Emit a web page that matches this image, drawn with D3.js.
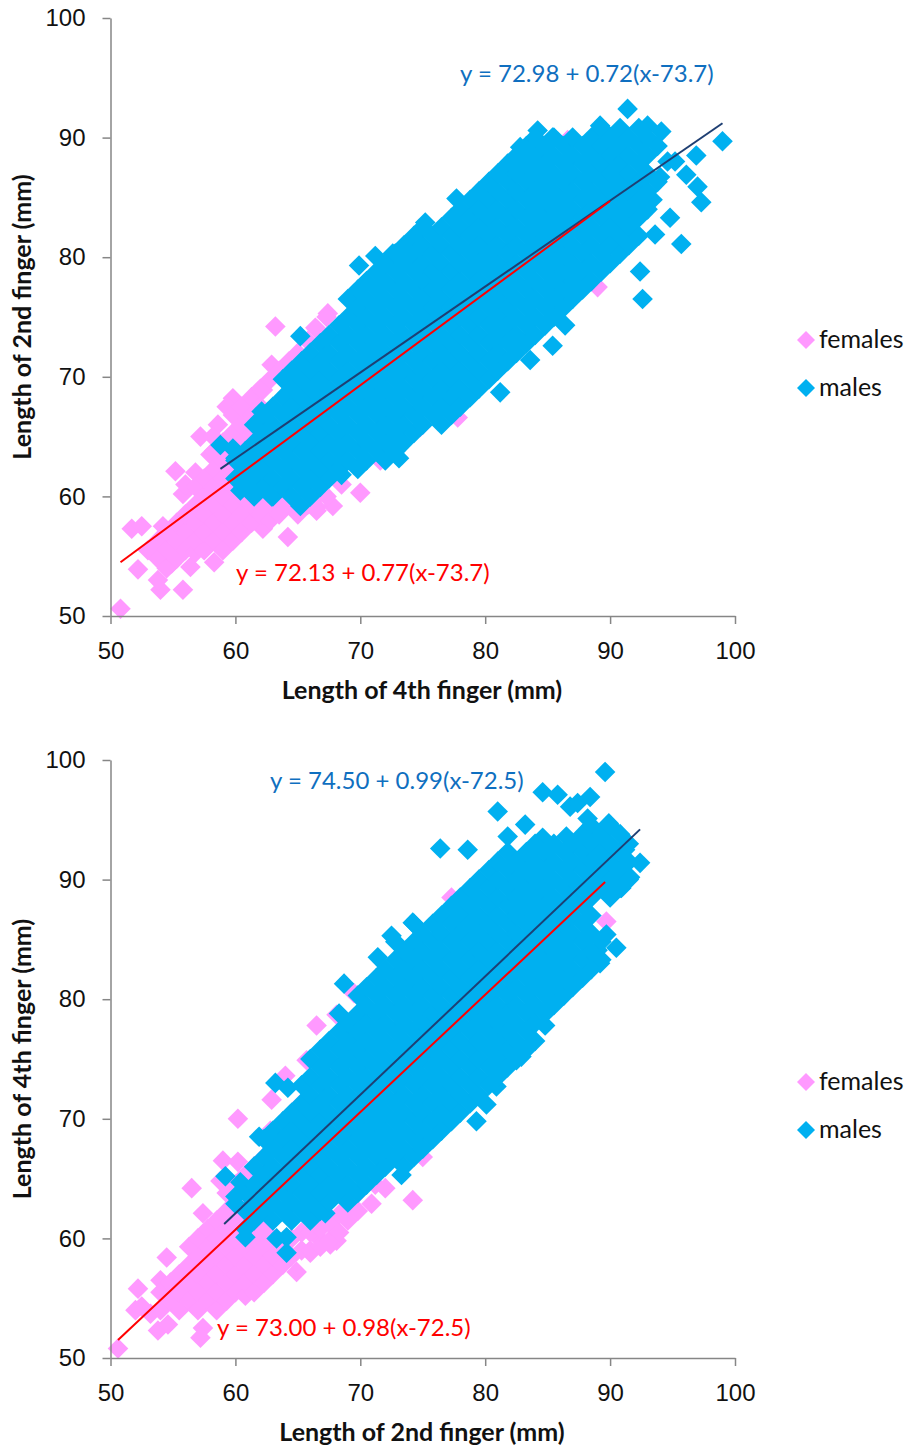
<!DOCTYPE html>
<html lang="en">
<head>
<meta charset="utf-8">
<title>Finger length scatter</title>
<script src="https://cdnjs.cloudflare.com/ajax/libs/d3/7.8.5/d3.min.js"></script>
<style>
  body { margin: 0; background: #fff; }
  svg { display: block; font-family: Lato, "Open Sans", sans-serif; }
  .tick text { font-size: 24px; fill: #111; }
  .title { font-size: 25px; font-weight: bold; fill: #111; text-anchor: middle; }
  .eq { font-size: 24px; }
  .leg { font-size: 25px; fill: #111; }
</style>
</head>
<body>
<div id="graph"></div>
<script>
const axisTicks = [50, 60, 70, 80, 90, 100];
const seriesNames = ["females", "males"];

// every row is [x, y, y, y ...]

// top chart: 4th finger (x) against 2nd finger (y)
const femalesTop = [
  [50.8,50.6],[51.7,57.3],[52.5,57.5],[52.2,53.9],[54,52.2],[53.8,53],[55.8,52.2],[56.4,54.1],[54.9,54.4],[58.3,54.5],
  [57.2,65],[58.6,66],[59.8,68.2],[59.3,67.5],[55.2,62.1],[62.2,57.3],[64.2,56.6],[66.5,59.1],[70,60.3],[71.6,63],
  [62.2,68.9],[62.9,66.5],[63.2,74.2],[62.9,71],[66.4,74.1],[67.4,75.3],[72,79],[73.2,79.3],[86.6,89.8],[89,77.5],
  [78.6,68.2],[77.8,66.6],[74.8,65.8],[68.5,61],[67.8,59.2],[61,58],[64.9,59.5],[60.5,67.2],[64.2,70.8],
  [54.2,57.5],[55.8,60.2],[56.8,62],[58,63.5],[58.2,65],[56,61],
  [53,55.5],[53.8,54.8,56.3],[54.5,54,55.5,57],[55.3,54.8,56.3,57.8],[56,55.5,57,58.5],
  [56.8,55.3,56.3,57.8,59.3,60.8],[57.5,55.5,57,58.5,60,61.5],[58.3,56.3,57.8,59.3,60.8,62.3,63.8],
  [59,55.5,57,58.5,60,61.5,63,64.5],[59.8,56.3,57.8,59.3,60.8,62.3,63.8,65.3,66.8],
  [60.5,57,58.5,60,61.5,63,64.5,66,67.5],[61.3,57.8,59.3,60.8,62.3,63.8,65.3,66.8,68.3],
  [62,58.5,60,67.5,69],[62.8,58,59.3,69.8],[63.5,58.5,60,70.5],[64.3,59.3,71.3],[65,58.5,60,72],[65.8,59.3,73],
  [66.5,58.8,60,74],[67.3,60,75]
];
const malesTop = [
  [91.4,92.4],[84.2,90.6],[89.2,91],[99,89.7],[81.8,87.8],[85.4,90],[82.8,89.2],[77.7,84.9],[96.9,88.5],[96.1,86.9],
  [97,85.9],[97.3,84.6],[94.8,83.3],[93.6,81.9],[95.7,81.1],[92.6,76.5],[92.4,78.8],[93.4,84.8],[95.2,88],[93,91],
  [94.1,90.5],[75.2,82.9],[71.2,80.1],[72.6,80.3],[69.9,79.3],[65.2,73.4],[62.1,67.1],[61.7,66],[58.8,64.3],[59.8,64],
  [60,63.2],[73.1,63.2],[65.2,59.2],[68.5,61.8],[83.6,71.4],[85.4,72.6],[86.4,74.3],[81.2,68.7],[60.4,60.5],[62.9,60],
  [94,86.7],[94.6,88],
  [60,61.5,63],[60.8,60.8,62.3,63.8],[61.5,60,61.5,63,64.5,66],[62.3,60.8,62.3,63.8,65.3,66.8],
  [63,60,61.5,63,64.5,66,67.5],[63.8,60.8,62.3,63.8,65.3,66.8,68.3,69.8],[64.5,60,61.5,63,64.5,66,67.5,69,70.5],
  [65.3,60.8,62.3,63.8,65.3,66.8,68.3,69.8,71.3],[66,60,61.5,63,64.5,66,67.5,69,70.5,72],
  [66.8,60.8,62.3,63.8,65.3,66.8,68.3,69.8,71.3,72.8],[67.5,61.5,63,64.5,66,67.5,69,70.5,72,73.5],
  [68.3,62.3,63.8,65.3,66.8,68.3,69.8,71.3,72.8,74.3],[69,63,64.5,66,67.5,69,70.5,72,73.5,75,76.5],
  [69.8,62.3,63.8,65.3,66.8,68.3,69.8,71.3,72.8,74.3,75.8,77.3],[70.5,63,64.5,66,67.5,69,70.5,72,73.5,75,76.5,78],
  [71.3,63.8,65.3,66.8,68.3,69.8,71.3,72.8,74.3,75.8,77.3,78.8],[72,63,64.5,66,67.5,69,70.5,72,73.5,75,76.5,78,79.5],
  [72.8,63.8,65.3,66.8,68.3,69.8,71.3,72.8,74.3,75.8,77.3,78.8,80.3],[73.5,64.5,66,67.5,69,70.5,72,73.5,75,76.5,78,79.5,81],
  [74.3,65.3,66.8,68.3,69.8,71.3,72.8,74.3,75.8,77.3,78.8,80.3,81.8],[75,66,67.5,69,70.5,72,73.5,75,76.5,78,79.5,81,82.5],
  [75.8,66.8,68.3,69.8,71.3,72.8,74.3,75.8,77.3,78.8,80.3,81.8],[76.5,66,67.5,69,70.5,72,73.5,75,76.5,78,79.5,81,82.5],
  [77.3,66.8,68.3,69.8,71.3,72.8,74.3,75.8,77.3,78.8,80.3,81.8,83.3],[78,67.5,69,70.5,72,73.5,75,76.5,78,79.5,81,82.5,84],
  [78.8,68.3,69.8,71.3,72.8,74.3,75.8,77.3,78.8,80.3,81.8,83.3,84.8],[79.5,69,70.5,72,73.5,75,76.5,78,79.5,81,82.5,84,85.5],
  [80.3,69.8,71.3,72.8,74.3,75.8,77.3,78.8,80.3,81.8,83.3,84.8,86.3],[81,70.5,72,73.5,75,76.5,78,79.5,81,82.5,84,85.5,87],
  [81.8,71.3,72.8,74.3,75.8,77.3,78.8,80.3,81.8,83.3,84.8,86.3,87.8],[82.5,72,73.5,75,76.5,78,79.5,81,82.5,84,85.5,87,88.5],
  [83.3,72.8,74.3,75.8,77.3,78.8,80.3,81.8,83.3,84.8,86.3,87.8,89.3],[84,73.5,75,76.5,78,79.5,81,82.5,84,85.5,87,88.5,90],
  [84.8,74.3,75.8,77.3,78.8,80.3,81.8,83.3,84.8,86.3,87.8,89.3],[85.5,75,76.5,78,79.5,81,82.5,84,85.5,87,88.5,90],
  [86.3,75.8,77.3,78.8,80.3,81.8,83.3,84.8,86.3,87.8,89.3],[87,76.5,78,79.5,81,82.5,84,85.5,87,88.5,90],
  [87.8,77.3,78.8,80.3,81.8,83.3,84.8,86.3,87.8,89.3],[88.5,78,79.5,81,82.5,84,85.5,87,88.5,90],
  [89.3,78.8,80.3,81.8,83.3,84.8,86.3,87.8,89.3,90.8],[90,79.5,81,82.5,84,85.5,87,88.5,90],
  [90.8,80.3,81.8,83.3,84.8,86.3,87.8,89.3,90.8],[91.5,81,82.5,84,85.5,87,88.5,90],
  [92.3,81.8,83.3,84.8,86.3,87.8,89.3,90.8],[93,84,85.5,87,88.5,90],[93.8,86.3,89.3]
];
const femaleLineTop = [[50.8,54.5],[90,84.7]];
const maleLineTop = [[58.8,62.3],[99,91.2]];

// bottom chart: 2nd finger (x) against 4th finger (y)
const femalesBottom = [
  [50.6,50.8],[52.2,55.8],[52.5,54.3],[52,54],[53.2,53.7],[54,56.5],[54.5,58.4],[53.8,52.3],[54.6,52.8],[57.4,52.5],
  [57.2,51.7],[56.5,64.2],[59,66.5],[60.2,66.4],[57.4,62.1],[64.9,57.2],[67.6,59.5],[68.1,59.8],[66,58.8],[70.9,62.9],
  [68.8,62.1],[66.5,60.2],[71.2,64.5],[60.2,70],[62.9,71.6],[66.5,77.8],[68.1,78.7],[65.7,74.9],[74.2,63.2],[89.7,86.5],
  [77.3,88.5],[78.8,73],[73.7,66.6],[75,66.8],[58.8,64.8],[62.8,69],[64,73.6],[69.5,80.5],[72,64.2],
  [54,54,55.5],[54.8,54.8,56.3],[55.5,54,55.5,57],[56.3,54.8,56.3,57.8,59.3],[57,54,55.5,57,58.5,60],
  [57.8,54.8,56.3,57.8,59.3,60.8],[58.5,54,55.5,57,58.5,60,61.5],[59.3,54.8,56.3,57.8,59.3,60.8,62.3,63.8],
  [60,55.5,57,58.5,60,61.5,63,64.5],[60.8,55.2,56.3,57.8,59.3,60.8,65.3],[61.5,55.5,57,58.5,60,66],
  [62.3,56.3,57.8,59.3,60.8,66.8],[63,57,58.5,60,67.5],[63.8,57.8,59.3,68.5],[64.5,58.5,60,70],[65.3,59,60.5,71.3],
  [66,59,60.5,72.5],[66.8,59.3,60.8,74],[67.5,59.8,61.3],[68.3,60.5,62],[69,61.5,63],[69.8,62.3,63.8]
];
const malesBottom = [
  [89.6,99],[84.6,97.3],[85.8,97.1],[88.4,96.9],[86.8,96.1],[87.4,96.4],[81,95.7],[83.2,94.6],[76.4,92.6],[78.6,92.5],
  [81.8,93.6],[84.6,93.5],[86.5,93.6],[88.2,95.1],[89.9,94.7],[92.4,91.4],[90.9,89.3],[90.5,84.3],[89.2,83],[89,84.1],
  [87.7,81.9],[89.7,85.4],[74.2,86.4],[72.5,85.3],[71.4,83.5],[68.7,81.3],[63.2,73],[64.2,72.6],[61.9,68.5],
  [84.8,77.8],[82.9,75.2],[80.1,71.2],[79.3,69.8],[80.9,72.7],[82.5,74.9],[73.3,65.3],[59.2,65.2],[60.4,64.7],[60,62.9],
  [60.8,60.1],[63.3,60],[64.1,60.1],[64.1,58.8],[67.2,62.1],[91.2,92.5],[91.6,90.2],
  [60,63.5],[60.8,60.8,62.3,63.8],[61.5,61.5,63,64.5,66],[62.3,62.3,63.8,65.3,66.8,68.3],[63,61.5,63,64.5,66,67.5,69],
  [63.8,62.3,63.8,65.3,66.8,68.3,69.8],[64.5,61.5,63,64.5,66,67.5,69,70.5],[65.3,62.3,63.8,65.3,66.8,68.3,69.8,71.3,72.8],
  [66,61.5,63,64.5,66,67.5,69,70.5,72,73.5,75],[66.8,62.3,63.8,65.3,66.8,68.3,69.8,71.3,72.8,74.3,75.8],
  [67.5,63,64.5,66,67.5,69,70.5,72,73.5,75,76.5],[68.3,63.8,65.3,66.8,68.3,69.8,71.3,72.8,74.3,75.8,77.3,78.8],
  [69,63,64.5,66,67.5,69,70.5,72,73.5,75,76.5,78],[69.8,63.8,65.3,66.8,68.3,69.8,71.3,72.8,74.3,75.8,77.3,78.8,80.3],
  [70.5,64.5,66,67.5,69,70.5,72,73.5,75,76.5,78,79.5,81],[71.3,65.3,66.8,68.3,69.8,71.3,72.8,74.3,75.8,77.3,78.8,80.3,81.8],
  [72,66,67.5,69,70.5,72,73.5,75,76.5,78,79.5,81,82.5],[72.8,66.8,68.3,69.8,71.3,72.8,74.3,75.8,77.3,78.8,80.3,81.8,83.3,84.8],
  [73.5,66,67.5,69,70.5,72,73.5,75,76.5,78,79.5,81,82.5,84],[74.3,66.8,68.3,69.8,71.3,72.8,74.3,75.8,77.3,78.8,80.3,81.8,83.3,84.8,86.3],
  [75,67.5,69,70.5,72,73.5,75,76.5,78,79.5,81,82.5,84,85.5],[75.8,68.3,69.8,71.3,72.8,74.3,75.8,77.3,78.8,80.3,81.8,83.3,84.8,86.3],
  [76.5,69,70.5,72,73.5,75,76.5,78,79.5,81,82.5,84,85.5,87],[77.3,69.8,71.3,72.8,74.3,75.8,77.3,78.8,80.3,81.8,83.3,84.8,86.3,87.8],
  [78,70.5,72,73.5,75,76.5,78,79.5,81,82.5,84,85.5,87,88.5],[78.8,71.3,72.8,74.3,75.8,77.3,78.8,80.3,81.8,83.3,84.8,86.3,87.8,89.3],
  [79.5,72,73.5,75,76.5,78,79.5,81,82.5,84,85.5,87,88.5,90],[80.3,72.8,74.3,75.8,77.3,78.8,80.3,81.8,83.3,84.8,86.3,87.8,89.3,90.8],
  [81,73.5,75,76.5,78,79.5,81,82.5,84,85.5,87,88.5,90,91.5],[81.8,74.3,75.8,77.3,78.8,80.3,81.8,83.3,84.8,86.3,87.8,89.3,90.8,92.3],
  [82.5,75,76.5,78,79.5,81,82.5,84,85.5,87,88.5,90,91.5],[83.3,75.8,77.3,78.8,80.3,81.8,83.3,84.8,86.3,87.8,89.3,90.8,92.3],
  [84,76.5,78,79.5,81,82.5,84,85.5,87,88.5,90,91.5,93],[84.8,78.8,80.3,81.8,83.3,84.8,86.3,87.8,89.3,90.8,92.3],
  [85.5,79.5,81,82.5,84,85.5,87,88.5,90,91.5,93],[86.3,80.3,81.8,83.3,84.8,86.3,87.8,89.3,90.8,92.3],
  [87,81,82.5,84,85.5,87,88.5,90,91.5,93],[87.8,81.8,83.3,84.8,86.3,87.8,89.3,90.8,92.3,93.8],
  [88.5,82.5,84,85.5,87,88.5,90,91.5,93,94.5],[89.3,83.3,84.8,89.3,90.8,92.3,93.8],
  [90,88.5,90,91.5,93,94.5],[90.8,89.3,90.8,92.3,93.8],[91.5,90,91.5,93]
];
const femaleLineBottom = [[50.6,51.5],[89.6,89.8]];
const maleLineBottom = [[59.1,61.2],[92.4,94.2]];

const pink = "#ff99ff", blue = "#00b0f0", red = "#ff0000", navy = "#1f3f73", eqBlue = "#0f6fc0";

const svg = d3.select("#graph").append("svg").attr("width", 905).attr("height", 1448);
const diamond = size => d3.symbol(d3.symbolSquare).size(size)();

// unfold the [x, y, y ...] rows into points
function unfold(rows) {
  return rows.flatMap(r => r.slice(1).map(y => [r[0], y]));
}

function panel(cfg) {
  const x = d3.scaleLinear().domain([50, 100]).range([110.5, 735]);
  const y = d3.scaleLinear().domain([50, 100]).range([cfg.bottom, cfg.bottom - 598]);
  const g = svg.append("g");

  const line = d3.line().x(d => x(d[0])).y(d => y(d[1]));

  [[cfg.females, pink], [cfg.males, blue]].forEach(s => {
    g.append("g").selectAll("path")
      .data(unfold(s[0]))
      .enter().append("path")
      .attr("d", diamond(212))
      .attr("transform", d => "translate(" + x(d[0]) + "," + y(d[1]) + ") rotate(45)")
      .attr("fill", s[1]);
  });

  const xAxis = d3.axisBottom(x).tickValues(axisTicks).tickSize(8).tickSizeOuter(0).tickPadding(18);
  const yAxis = d3.axisLeft(y).tickValues(axisTicks).tickSize(8).tickSizeOuter(0).tickPadding(17);
  g.append("g").attr("transform", "translate(0," + cfg.bottom + ")").call(xAxis);
  g.append("g").attr("transform", "translate(110.5,0)").call(yAxis);
  g.selectAll(".domain, .tick line").attr("stroke", "#868686").attr("stroke-width", 1.5);

  g.append("path").attr("d", line(cfg.maleLine)).attr("fill", "none").attr("stroke", navy).attr("stroke-width", 2);
  g.append("path").attr("d", line(cfg.femaleLine)).attr("fill", "none").attr("stroke", red).attr("stroke-width", 2);

  // axis titles
  g.append("text").attr("class", "title").attr("x", 422).attr("y", cfg.bottom + 83).text(cfg.xTitle);
  g.append("text").attr("class", "title")
    .attr("transform", "translate(31," + (cfg.bottom - 299) + ") rotate(-90)").text(cfg.yTitle);

  // fitted equations
  g.append("text").attr("class", "eq").attr("fill", eqBlue).attr("x", cfg.maleEq[0]).attr("y", cfg.maleEq[1]).text(cfg.maleText);
  g.append("text").attr("class", "eq").attr("fill", red).attr("x", cfg.femaleEq[0]).attr("y", cfg.femaleEq[1]).text(cfg.femaleText);

  // legend
  seriesNames.forEach((name, i) => {
    const ly = cfg.bottom - 276 + i * 48;
    g.append("path").attr("d", diamond(162)).attr("fill", i ? blue : pink)
      .attr("transform", "translate(806," + ly + ") rotate(45)");
    g.append("text").attr("class", "leg").attr("x", 819).attr("y", ly + 8).text(name);
  });
}

panel({
  bottom: 616, females: femalesTop, males: malesTop, femaleLine: femaleLineTop, maleLine: maleLineTop,
  xTitle: "Length of 4th finger (mm)", yTitle: "Length of 2nd finger (mm)",
  maleText: "y = 72.98 + 0.72(x-73.7)", femaleText: "y = 72.13 + 0.77(x-73.7)",
  maleEq: [460, 82], femaleEq: [236, 581]
});
panel({
  bottom: 1358, females: femalesBottom, males: malesBottom, femaleLine: femaleLineBottom, maleLine: maleLineBottom,
  xTitle: "Length of 2nd finger (mm)", yTitle: "Length of 4th finger (mm)",
  maleText: "y = 74.50 + 0.99(x-72.5)", femaleText: "y = 73.00 + 0.98(x-72.5)",
  maleEq: [270, 789], femaleEq: [217, 1336]
});
</script>
</body>
</html>
